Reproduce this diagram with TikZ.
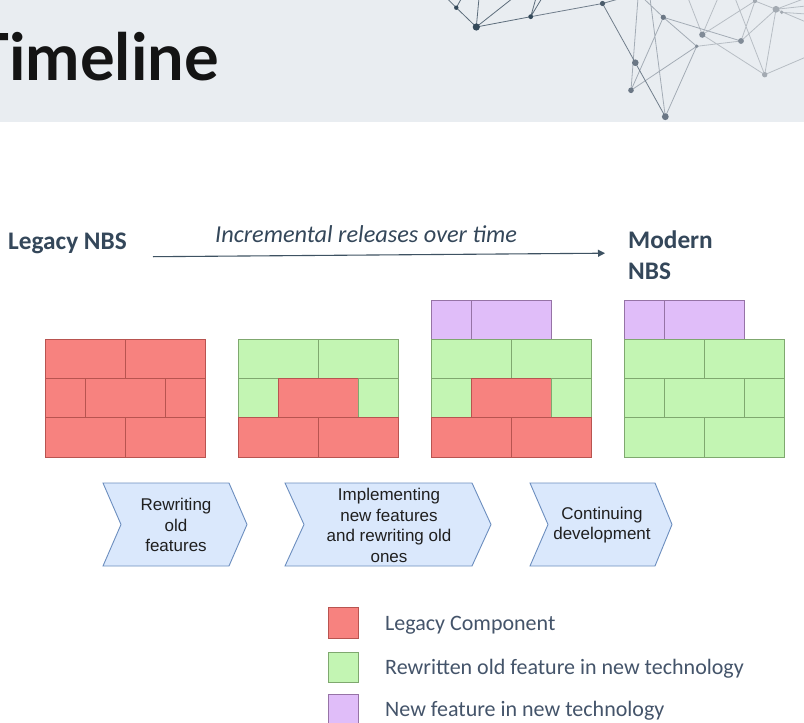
\documentclass[tikz,border=0pt]{standalone}
\usepackage{fontspec}
\usetikzlibrary{arrows.meta}
\setmainfont{Liberation Sans}
\newfontfamily\titlefont{Lato}
\newfontfamily\calfont{Carlito}
\newfontfamily\chevfont{Liberation Sans}
\definecolor{bandbg}{HTML}{E9EDF1}
\definecolor{legacyfill}{HTML}{F7827F}
\definecolor{legacyline}{HTML}{B85450}
\definecolor{rewfill}{HTML}{C3F5B3}
\definecolor{rewline}{HTML}{7FA86F}
\definecolor{newfill}{HTML}{E0BDF9}
\definecolor{newline}{HTML}{9673A6}
\definecolor{chevfill}{HTML}{DAE8FC}
\definecolor{chevline}{HTML}{6C8EBF}
\definecolor{labelcol}{HTML}{34475A}
\definecolor{legendcol}{HTML}{44546A}
\definecolor{arrowcol}{HTML}{3E5262}
\definecolor{netdark}{HTML}{34495A}
\definecolor{netmid}{HTML}{6B7785}
\definecolor{netlight}{HTML}{A3AAB2}
\tikzset{
  legacy/.style={fill=legacyfill, draw=legacyline, line width=1pt},
  rewritten/.style={fill=rewfill, draw=rewline, line width=1pt},
  newfeat/.style={fill=newfill, draw=newline, line width=1pt},
  chevron/.style={fill=chevfill, draw=chevline, line width=0.9pt},
  chevtext/.style={font=\chevfont\fontsize{17}{20.5}\selectfont, align=center, text=black!88},
  biglabel/.style={font=\calfont\bfseries\fontsize{25.3}{31}\selectfont, text=labelcol},
  legendtext/.style={font=\calfont\fontsize{22}{26}\selectfont, text=legendcol, anchor=base west, inner sep=0},
  netline/.style={line width=0.8pt},
}
\newcommand\brk[5]{\draw[#5] (#1,#2) rectangle (#3,#4);}
\begin{document}
\begin{tikzpicture}[x=1pt,y=-1pt]
\useasboundingbox (0,0) rectangle (804,723);
\fill[white] (0,0) rectangle (804,723);
% header band
\fill[bandbg] (0,0) rectangle (804,122);
% network decoration
\begin{scope}
\clip (0,0) rectangle (804,122);
\coordinate (n1) at (456.3,7.7);
\coordinate (n2) at (476.3,27);
\coordinate (n3) at (530.7,16.7);
\coordinate (n4) at (602.5,3.5);
\coordinate (n5) at (663.3,17.3);
\coordinate (n6) at (635.3,62.7);
\coordinate (n7) at (631,90.3);
\coordinate (n8) at (665.3,116.7);
\coordinate (n9) at (702.3,34.7);
\coordinate (n10) at (696.7,46.3);
\coordinate (n11) at (741,41);
\coordinate (n12) at (764.7,74.7);
\coordinate (n13) at (776,9.3);
\coordinate (n14) at (781.7,12.3);
\coordinate (n15) at (755,1);
\draw[netline, draw=netdark!80] (446.7,-2) -- (n1) -- (n2) (461.7,-2) -- (n1)
  (n2) -- (479,-2) (n2) -- (513,-2) (n2) -- (n3) (n3) -- (536,-2) (n3) -- (542,-2);
\draw[netline, draw=netdark!45!netmid, opacity=0.8] (n3) -- (n4) -- (622,-2) (n4) -- (n6) -- (n8);
\draw[netline, draw=netmid, opacity=0.55] (638,-2) -- (n7) (650,-2) -- (n8) (n5) -- (n7)
  (n5) -- (643,-2) (n5) -- (n10) (n5) -- (n11) (n10) -- (n8) (n10) -- (n7);
\draw[netline, draw=netlight, opacity=0.7] (n10) -- (n11) (n9) -- (718,-2) (n9) -- (n15)
  (n9) -- (n12) (n9) -- (688,-2) (n11) -- (n15) (n11) -- (n13) (n12) -- (735,-2)
  (n12) -- (n13) (n12) -- (806,57) (n13) -- (806,-2) (n13) -- (806,22) (n14) -- (806,14)
  (n15) -- (n13) (n13) -- (806,6);
\fill[netdark] (n1) circle (2.2) (n2) circle (3.6) (n3) circle (2.4);
\fill[netdark!60!netmid] (n4) circle (2.6);
\fill[netmid] (n5) circle (2.6) (n6) circle (3.3) (n7) circle (2.8) (n8) circle (3.4);
\fill[netmid!60!netlight] (n9) circle (3.1) (n10) circle (1.9) (n11) circle (2.9);
\fill[netlight] (n12) circle (2.7) (n13) circle (3.4) (n14) circle (1.9) (n15) circle (2.1);
\end{scope}
% title
\node[anchor=base west, inner sep=0, font=\titlefont\bfseries\fontsize{65}{70}\selectfont, text=black!92] (title) at (9,80) {\llap{T}imeline};
% labels and arrow
\node[biglabel, anchor=base west, inner sep=0] (legacy) at (8,249) {Legacy NBS};
\node[biglabel, anchor=base west, inner sep=0, align=left] (modern) at (628,279.5) {Modern\\NBS};
\node[font=\calfont\itshape\fontsize{24.3}{28}\selectfont, text=labelcol, anchor=base, inner sep=0] (incr) at (366,242.5) {Incremental releases over time};
\coordinate (arrstart) at (153,256.7);
\coordinate (arrend) at (605,253.2);
\draw[arrowcol, line width=1.1pt, -{Triangle[length=7pt,width=7pt]}] (arrstart) -- (arrend);
% wall 1
\brk{45}{339}{125}{378.3}{legacy}\brk{125}{339}{205}{378.3}{legacy}
\brk{45}{378.3}{85}{417.7}{legacy}\brk{85}{378.3}{165}{417.7}{legacy}\brk{165}{378.3}{205}{417.7}{legacy}
\brk{45}{417.7}{125}{457}{legacy}\brk{125}{417.7}{205}{457}{legacy}
% wall 2
\brk{238}{339}{318}{378.3}{rewritten}\brk{318}{339}{398}{378.3}{rewritten}
\brk{238}{378.3}{278}{417.7}{rewritten}\brk{278}{378.3}{358}{417.7}{legacy}\brk{358}{378.3}{398}{417.7}{rewritten}
\brk{238}{417.7}{318}{457}{legacy}\brk{318}{417.7}{398}{457}{legacy}
% wall 3
\brk{431}{300}{471}{339}{newfeat}\brk{471}{300}{551}{339}{newfeat}
\brk{431}{339}{511}{378.3}{rewritten}\brk{511}{339}{591}{378.3}{rewritten}
\brk{431}{378.3}{471}{417.7}{rewritten}\brk{471}{378.3}{551}{417.7}{legacy}\brk{551}{378.3}{591}{417.7}{rewritten}
\brk{431}{417.7}{511}{457}{legacy}\brk{511}{417.7}{591}{457}{legacy}
% wall 4
\brk{624}{300}{664}{339}{newfeat}\brk{664}{300}{744}{339}{newfeat}
\brk{624}{339}{704}{378.3}{rewritten}\brk{704}{339}{784}{378.3}{rewritten}
\brk{624}{378.3}{664}{417.7}{rewritten}\brk{664}{378.3}{744}{417.7}{rewritten}\brk{744}{378.3}{784}{417.7}{rewritten}
\brk{624}{417.7}{704}{457}{rewritten}\brk{704}{417.7}{784}{457}{rewritten}
% chevrons
\draw[chevron] (103,483) -- (229,483) -- (247,524.5) -- (229,566) -- (103,566) -- (121,524.5) -- cycle;
\node[chevtext] (c1) at (176,525) {Rewriting\\old\\features};
\draw[chevron] (285,483) -- (472,483) -- (491,524.5) -- (472,566) -- (285,566) -- (304,524.5) -- cycle;
\node[chevtext] (c2) at (389,525.5) {Implementing\\new features\\and rewriting old\\ones};
\draw[chevron] (530,483) -- (655,483) -- (672,524.5) -- (655,566) -- (530,566) -- (548,524.5) -- cycle;
\node[chevtext] (c3) at (602,525) {Continuing\\development};
% legend
\draw[legacy, line width=0.6pt] (328,607) rectangle (358,638);
\draw[rewritten, line width=0.6pt] (328,652) rectangle (358,682);
\draw[newfeat, line width=0.6pt] (328,694) rectangle (358,724);
\node[legendtext] (l1) at (385,630) {Legacy Component};
\node[legendtext] (l2) at (385,674) {Rewritten old feature in new technology};
\node[legendtext] (l3) at (385,716) {New feature in new technology};
\end{tikzpicture}
\end{document}
